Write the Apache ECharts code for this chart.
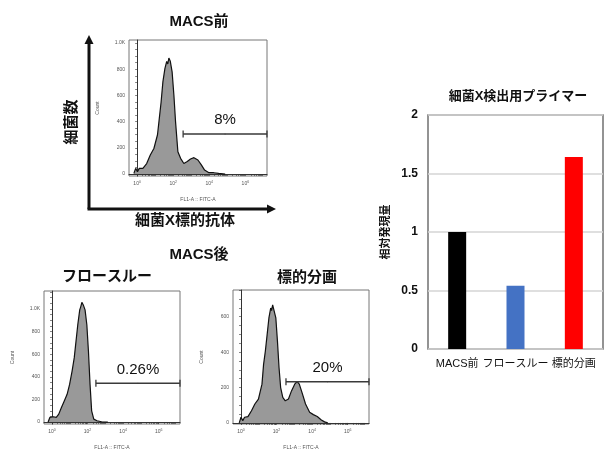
<!DOCTYPE html>
<html>
<head>
<meta charset="utf-8">
<script src="https://cdn.jsdelivr.net/npm/echarts@6/dist/echarts.min.js"></script>
<style>
  html, body { margin: 0; padding: 0; background: #fff; }
  #chart { width: 605px; height: 451px; }
</style>
</head>
<body>
<div id="chart"></div>
<script>
/* ---------------------------- data ---------------------------- */
// histograms: x in decades (log10 FITC), y = cell count
const decadesBefore = [-0.18, -0.08, 0.02, 0.12, 0.32, 0.53, 0.73, 0.93, 1.13, 1.23, 1.33, 1.43, 1.54, 1.64, 1.70, 1.76, 1.84, 1.94, 2.04, 2.13, 2.26, 2.41, 2.59, 2.78, 2.96, 3.15, 3.37, 3.56, 3.74, 3.98, 4.25, 4.52, 4.88];
const countsBefore = [5, 43, 18, 43, 43, 80, 145, 195, 300, 425, 550, 705, 805, 860, 840, 885, 860, 780, 600, 400, 170, 120, 80, 95, 115, 125, 107, 70, 30, 10, 10, 5, 0];

const decadesFlow = [-0.22, -0.12, -0.02, 0.08, 0.24, 0.38, 0.53, 0.69, 0.85, 0.99, 1.13, 1.25, 1.35, 1.45, 1.56, 1.62, 1.68, 1.76, 1.86, 1.96, 2.05, 2.14, 2.23, 2.35, 2.53, 2.79, 3.14];
const countsFlow = [0, 41, 26, 47, 41, 70, 129, 187, 245, 333, 450, 567, 713, 860, 991, 1020, 1058, 1035, 991, 860, 626, 333, 99, 26, 12, 3, 0];

const decadesTarget = [-0.1, 0.0, 0.1, 0.2, 0.39, 0.59, 0.78, 0.98, 1.18, 1.27, 1.37, 1.47, 1.57, 1.67, 1.72, 1.78, 1.86, 1.96, 2.05, 2.14, 2.23, 2.35, 2.49, 2.67, 2.84, 3.02, 3.16, 3.28, 3.46, 3.63, 3.86, 4.07, 4.29, 4.52, 4.70, 4.88];
const countsTarget = [0, 32, 13, 32, 36, 69, 107, 135, 219, 331, 406, 499, 593, 649, 635, 667, 658, 593, 462, 312, 200, 144, 125, 135, 181, 219, 234, 219, 163, 107, 60, 47, 36, 17, 6, 0];

// positive gates
const gateStart = [2.55, 2.47, 2.53];
const gateLevel = [305, 342, 232];
const gateText = ['8%', '0.26%', '20%'];

// qPCR bar chart
const barCategories = ['MACS前', 'フロースルー', '標的分画'];
const barValues = [1.0, 0.54, 1.64];
const barColors = ['#000000', '#4472c4', '#ff0000'];

// tick labels
const decadeLabels = [0, 2, 4, 6];
const barTicks = [0, 0.5, 1, 1.5, 2];

/* --------------------------- layout --------------------------- */
const FONT = "'Liberation Sans', 'Noto Sans CJK JP', sans-serif";
const X_MIN = -0.45;
const X_MAX = 7.2;

const minorDecadeTicks = [];
for (let n = 0; n < 7; n++) {
  for (let k = 1; k < 10; k++) {
    const v = n + Math.log10(k);
    if (v <= X_MAX) minorDecadeTicks.push(v);
  }
}

const histGrids = [
  { left: 129, top: 40, width: 138, height: 136 },
  { left: 44, top: 291, width: 136, height: 134 },
  { left: 233, top: 290, width: 136, height: 135 },
];
const histYMin = [-15, -17, -6];
const histYMax = [1023, 1158, 751];
const histYMajor = [1000, 1000, 600];

const histX = (i) => ({
  gridIndex: i,
  type: 'value',
  min: X_MIN,
  max: X_MAX,
  axisLine: { lineStyle: { color: '#333', width: 1 } },
  axisTick: { customValues: minorDecadeTicks, length: 2, lineStyle: { color: '#333', width: 0.6 } },
  axisLabel: {
    customValues: decadeLabels,
    formatter: (v) => '10{s|' + v + '}',
    fontSize: 5,
    color: '#555',
    margin: 4,
    fontFamily: FONT,
    rich: {
      s: { fontSize: 3.5, color: '#555', fontFamily: FONT, padding: [0, 0, 3, 0] },
    },
  },
  splitLine: { show: false },
  name: 'FL1-A :: FITC-A',
  nameLocation: 'middle',
  nameGap: 21,
  nameTextStyle: { fontSize: 5, color: '#555', fontFamily: FONT },
});

const histY = (i) => {
  const majors = [];
  const minors = [];
  for (let v = 0; v <= histYMajor[i]; v += 200) majors.push(v);
  for (let v = 0; v <= histYMax[i]; v += 50) minors.push(v);
  return {
    gridIndex: i,
    type: 'value',
    min: histYMin[i],
    max: histYMax[i],
    axisLine: { show: true, lineStyle: { color: '#333', width: 1 } },
    axisTick: { show: true, customValues: minors, length: 2, lineStyle: { color: '#333', width: 0.6 } },
    axisLabel: {
      customValues: majors,
      formatter: (v) => (v >= 1000 ? (v / 1000).toFixed(1) + 'K' : String(v)),
      fontSize: 5,
      color: '#555',
      margin: 4,
      fontFamily: FONT,
    },
    splitLine: { show: false },
    name: 'Count',
    nameLocation: 'middle',
    nameGap: 29,
    nameTextStyle: { fontSize: 5, color: '#555', fontFamily: FONT },
  };
};

const histSeries = (i, xs, ys) => ({
  type: 'line',
  xAxisIndex: i,
  yAxisIndex: i,
  data: xs.map((x, j) => [x, ys[j]]),
  showSymbol: false,
  lineStyle: { color: '#111', width: 1.2 },
  areaStyle: { color: '#999999', opacity: 1 },
  z: 2,
});

const gateSeries = (i) => {
  const end = X_MAX;
  const mid = (gateStart[i] + end) / 2;
  const cap = { symbol: 'rect', symbolSize: [1.3, 7] };
  return {
    type: 'line',
    xAxisIndex: i,
    yAxisIndex: i,
    clip: false,
    showSymbol: true,
    lineStyle: { color: '#3a3a3a', width: 1.5 },
    itemStyle: { color: '#3a3a3a' },
    data: [
      { value: [gateStart[i], gateLevel[i]], ...cap },
      {
        value: [mid, gateLevel[i]],
        symbol: 'circle',
        symbolSize: 1,
        label: {
          show: true,
          position: 'top',
          distance: 6,
          formatter: gateText[i],
          fontSize: 15,
          color: '#111',
          fontFamily: FONT,
        },
      },
      { value: [end, gateLevel[i]], ...cap },
    ],
    z: 3,
  };
};

const txt = (text, x, y, size, opts = {}) => ({
  type: 'text',
  x,
  y,
  rotation: opts.rotation || 0,
  style: {
    text,
    font: `${opts.weight || 'bold'} ${size}px ${FONT}`,
    fill: '#111',
    textAlign: 'center',
    textVerticalAlign: 'middle',
    align: 'center',
    verticalAlign: 'middle',
  },
});

const arrowColor = '#111';

const chart = echarts.init(document.getElementById('chart'));

chart.setOption({
  animation: false,
  backgroundColor: '#fff',
  grid: [
    ...histGrids.map((g) => ({ ...g, show: true, borderColor: '#777', borderWidth: 1 })),
    { left: 428, top: 115, width: 175, height: 234, show: true, borderColor: '#707070', borderWidth: 1.5 },
  ],
  xAxis: [
    histX(0),
    histX(1),
    histX(2),
    {
      gridIndex: 3,
      type: 'category',
      data: barCategories,
      axisLine: { show: false },
      axisTick: { show: false },
      axisLabel: { interval: 0, hideOverlap: false, fontSize: 11, color: '#111', margin: 9, fontFamily: FONT },
    },
  ],
  yAxis: [
    histY(0),
    histY(1),
    histY(2),
    {
      gridIndex: 3,
      type: 'value',
      min: 0,
      max: 2,
      interval: 0.5,
      axisLine: { show: false },
      axisTick: { show: false },
      axisLabel: {
        customValues: barTicks,
        fontSize: 12,
        fontWeight: 'bold',
        color: '#111',
        margin: 10,
        fontFamily: FONT,
      },
      splitLine: { lineStyle: { color: '#d4d4d4', width: 1.5 } },
      name: '相対発現量',
      nameLocation: 'middle',
      nameGap: 37,
      nameTextStyle: { fontSize: 11, fontWeight: 'bold', color: '#111', fontFamily: FONT },
    },
  ],
  series: [
    histSeries(0, decadesBefore, countsBefore),
    histSeries(1, decadesFlow, countsFlow),
    histSeries(2, decadesTarget, countsTarget),
    gateSeries(0),
    gateSeries(1),
    gateSeries(2),
    {
      type: 'bar',
      xAxisIndex: 3,
      yAxisIndex: 3,
      barWidth: 18,
      data: barValues.map((v, i) => ({ value: v, itemStyle: { color: barColors[i] } })),
    },
  ],
  graphic: [
    // panel titles
    txt('MACS前', 199, 22, 15),
    txt('細菌X標的抗体', 185, 221, 15),
    txt('細菌数', 72, 122, 15, { rotation: Math.PI / 2 }),
    txt('MACS後', 199, 255, 15),
    txt('フロースルー', 107, 277, 15),
    txt('標的分画', 307, 278, 15),
    txt('細菌X検出用プライマー', 518, 96, 13),
    // big axis arrows of the top panel
    { type: 'line', shape: { x1: 89, y1: 209, x2: 89, y2: 42 }, style: { stroke: arrowColor, lineWidth: 3 } },
    { type: 'polygon', shape: { points: [[89, 35], [84.5, 44], [93.5, 44]] }, style: { fill: arrowColor } },
    { type: 'line', shape: { x1: 87.5, y1: 209, x2: 268, y2: 209 }, style: { stroke: arrowColor, lineWidth: 3 } },
    { type: 'polygon', shape: { points: [[276, 209], [267, 204.5], [267, 213.5]] }, style: { fill: arrowColor } },
  ],
});
</script>
</body>
</html>
